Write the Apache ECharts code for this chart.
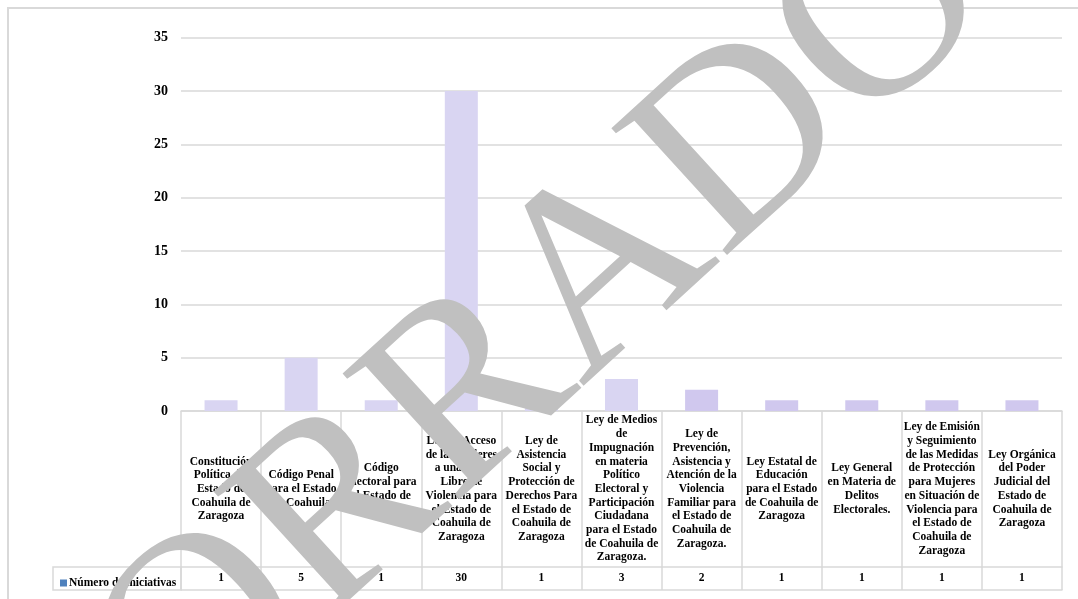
<!DOCTYPE html>
<html>
<head>
<meta charset="utf-8">
<title>Número de iniciativas</title>
<script src="https://cdn.jsdelivr.net/npm/echarts@6/dist/echarts.min.js"></script>
<style>
  html, body { margin: 0; padding: 0; background: #fff; }
  #chart { width: 1078px; height: 599px; }
</style>
</head>
<body>
<div id="chart"></div>
<script>
// category names, wrapped like the cells of the data table
const leyes = [
  'Constitución\nPolítica del\nEstado de\nCoahuila de\nZaragoza',
  'Código Penal\npara el Estado\nde Coahuila',
  'Código\nElectoral para\nel Estado de\nCoahuila',
  'Ley de Acceso\nde las Mujeres\na una Vida\nLibre de\nViolencia para\nel Estado de\nCoahuila de\nZaragoza',
  'Ley de\nAsistencia\nSocial y\nProtección de\nDerechos Para\nel Estado de\nCoahuila de\nZaragoza',
  'Ley de Medios\nde\nImpugnación\nen materia\nPolítico\nElectoral y\nParticipación\nCiudadana\npara el Estado\nde Coahuila de\nZaragoza.',
  'Ley de\nPrevención,\nAsistencia y\nAtención de la\nViolencia\nFamiliar para\nel Estado de\nCoahuila de\nZaragoza.',
  'Ley Estatal de\nEducación\npara el Estado\nde Coahuila de\nZaragoza',
  'Ley General\nen Materia de\nDelitos\nElectorales.',
  'Ley de Emisión\ny Seguimiento\nde las Medidas\nde Protección\npara Mujeres\nen Situación de\nViolencia para\nel Estado de\nCoahuila de\nZaragoza',
  'Ley Orgánica\ndel Poder\nJudicial del\nEstado de\nCoahuila de\nZaragoza'
]
const iniciativas = [1, 5, 1, 30, 1, 3, 2, 1, 1, 1, 1]
const serieNombre = 'Número de iniciativas'
const yTicks = [0, 5, 10, 15, 20, 25, 30, 35]

const FONT = '"Liberation Serif", "DejaVu Serif", serif'
const LINE = '#d9d9d9'

const chart = echarts.init(document.getElementById('chart'))

chart.setOption({
  animation: false,
  grid: {
    left: 181,
    right: 16,
    top: 37.7,
    bottom: 188
  },
  legend: {
    left: 55,
    top: 572,
    icon: 'rect',
    itemWidth: 7,
    itemHeight: 7,
    selectedMode: false,
    textStyle: { fontFamily: FONT, fontWeight: 'bold', fontSize: 11.5, color: '#000', padding: [0, 0, 0, -3] },
    data: [{ name: serieNombre, itemStyle: { color: '#4f81bd' }}]
  },
  xAxis: [
    {
      type: 'category',
      data: leyes,
      position: 'bottom',
      axisLine: { lineStyle: { color: LINE, width: 1.5 }},
      axisTick: { show: true, length: 179, lineStyle: { color: LINE, width: 1.5 }},
      axisLabel: {
        interval: 0,
        margin: 78,
        verticalAlign: 'middle',
        lineHeight: 13.7,
        fontFamily: FONT,
        fontWeight: 'bold',
        fontSize: 11.5,
        color: '#000'
      }
    },
    {
      // row with the numbers of the data table
      type: 'category',
      data: leyes,
      position: 'bottom',
      offset: 156,
      axisLine: { lineStyle: { color: LINE, width: 1.5 }},
      axisTick: { show: false },
      axisLabel: {
        interval: 0,
        margin: 11.5,
        verticalAlign: 'middle',
        fontFamily: FONT,
        fontWeight: 'bold',
        fontSize: 11.5,
        color: '#000',
        formatter: (v, i) => String(iniciativas[i])
      }
    },
    {
      type: 'category',
      data: leyes,
      position: 'bottom',
      offset: 179,
      axisLine: { lineStyle: { color: LINE, width: 1.5 }},
      axisTick: { show: false },
      axisLabel: { show: false }
    }
  ],
  yAxis: {
    type: 'value',
    min: yTicks[0],
    max: yTicks[yTicks.length - 1],
    interval: 5,
    axisLine: { show: false },
    axisTick: { show: false },
    splitLine: { lineStyle: { color: LINE, width: 1.5 }},
    axisLabel: {
      margin: 13,
      fontFamily: FONT,
      fontWeight: 'bold',
      fontSize: 14,
      color: '#000'
    }
  },
  series: [{
    name: serieNombre,
    type: 'bar',
    xAxisIndex: 0,
    barWidth: 33,
    data: iniciativas,
    itemStyle: {
      color: p => (p.dataIndex >= 6 ? '#d0c8ee' : '#d9d5f2')
    }
  }],
  graphic: [
    {
      type: 'rect',
      silent: true,
      z: -1,
      shape: { x: 8, y: 8, width: 1110, height: 640 },
      style: { fill: 'none', stroke: LINE, lineWidth: 2 }
    },
    {
      // legend cell of the data table
      type: 'rect',
      silent: true,
      shape: { x: 53, y: 567, width: 128, height: 23 },
      style: { fill: 'none', stroke: LINE, lineWidth: 1.5 }
    },
    {
      // draft watermark
      type: 'text',
      silent: true,
      z: 100,
      x: 546,
      y: 327,
      rotation: 0.74,
      style: {
        text: 'BORRADOR',
        fontFamily: '"Liberation Serif", serif',
        fontSize: 262,
        fill: '#c0c0c0',
        align: 'center',
        verticalAlign: 'middle'
      }
    }
  ]
})
</script>
</body>
</html>
